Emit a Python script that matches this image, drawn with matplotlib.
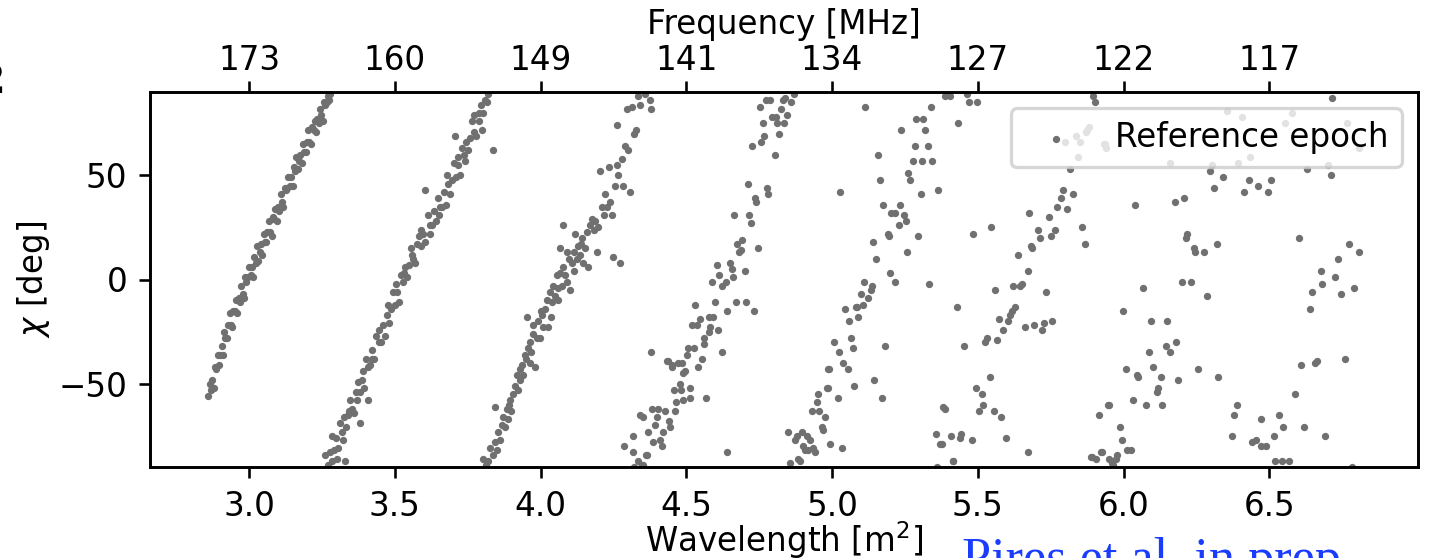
import numpy as np
import matplotlib
matplotlib.use('Agg')
import matplotlib.pyplot as plt

# (lambda^2 [m^2], chi [deg]), one array per wrap of the angle
band1 = np.array([
    (2.860, -56), (2.865, -50), (2.870, -53), (2.874, -48), (2.879, -52), (2.883, -42), (2.888, -43),
    (2.892, -36), (2.897, -41), (2.901, -36), (2.906, -32), (2.910, -36), (2.915, -25), (2.919, -28),
    (2.924, -28), (2.928, -22), (2.933, -16), (2.937, -22), (2.942, -23), (2.946, -15), (2.951, -15),
    (2.955, -10), (2.960, -16), (2.964, -9), (2.969, -11), (2.973, -3), (2.978, -7), (2.982, -9),
    (2.987, 1), (2.991, -1), (2.996, 1), (3.000, 6), (3.005, 2), (3.009, 6), (3.014, 1), (3.018, 11),
    (3.023, 8), (3.027, 16), (3.032, 9), (3.036, 13), (3.041, 17), (3.045, 12), (3.050, 22), (3.054, 18),
    (3.059, 18), (3.063, 23), (3.068, 28), (3.072, 23), (3.077, 21), (3.081, 30), (3.086, 29), (3.090, 34),
    (3.095, 28), (3.099, 35), (3.104, 33), (3.108, 41), (3.113, 37), (3.117, 35), (3.122, 44), (3.126, 43),
    (3.131, 44), (3.135, 49), (3.140, 45), (3.144, 49), (3.149, 45), (3.153, 54), (3.158, 52), (3.162, 59),
    (3.167, 53), (3.171, 57), (3.176, 60), (3.180, 56), (3.185, 65), (3.189, 61), (3.194, 61), (3.198, 66),
    (3.203, 72), (3.207, 66), (3.212, 65), (3.216, 73), (3.221, 72), (3.225, 76), (3.230, 71), (3.234, 77),
    (3.239, 75), (3.243, 82), (3.248, 79), (3.252, 76), (3.257, 85), (3.261, 84), (3.266, 85), (3.270, 88),
    (3.275, 86), (3.279, 89),
])

band2 = np.array([
    (3.262, -84), (3.269, -89), (3.276, -83), (3.283, -75), (3.290, -82), (3.297, -76), (3.304, -81),
    (3.311, -69), (3.318, -73), (3.325, -66), (3.332, -71), (3.339, -65), (3.346, -58), (3.353, -62),
    (3.360, -64), (3.367, -54), (3.374, -49), (3.381, -54), (3.388, -48), (3.395, -52), (3.402, -38),
    (3.409, -42), (3.416, -41), (3.423, -34), (3.430, -38), (3.437, -27), (3.444, -30), (3.451, -30),
    (3.458, -22), (3.465, -27), (3.472, -17), (3.479, -21), (3.486, -14), (3.493, -6), (3.500, -12),
    (3.507, -6), (3.514, -11), (3.521, 2), (3.528, -1), (3.535, 6), (3.542, 1), (3.549, 7), (3.556, 15),
    (3.563, 10), (3.570, 8), (3.577, 17), (3.584, 21), (3.591, 16), (3.598, 22), (3.605, 18), (3.612, 31),
    (3.619, 26), (3.626, 26), (3.633, 33), (3.640, 28), (3.647, 39), (3.654, 35), (3.661, 35), (3.668, 42),
    (3.675, 36), (3.682, 46), (3.689, 41), (3.696, 48), (3.703, 56), (3.710, 49), (3.717, 55), (3.724, 50),
    (3.731, 63), (3.738, 60), (3.745, 66), (3.752, 62), (3.759, 68), (3.766, 76), (3.773, 71), (3.780, 69),
    (3.787, 80), (3.794, 84), (3.801, 80), (3.808, 86), (3.815, 85),
    (3.707, 69), (3.837, 62), (3.604, 43), (3.381, -69), (3.330, -87), (3.408, -58), (3.820, 89),
    (3.800, 72), (3.285, -87), (3.300, -86), (3.322, -77), (3.343, -63), (3.370, -58), (3.392, -44),
    (3.420, -38), (3.447, -24), (3.475, -12), (3.505, -2), (3.532, 3), (3.560, 12), (3.590, 24),
    (3.620, 22), (3.650, 31), (3.680, 50), (3.715, 59), (3.740, 57), (3.770, 79), (3.790, 76),
])

band3 = np.array([
    (3.804, -86), (3.812, -89), (3.827, -81), (3.836, -84), (3.844, -78), (3.855, -73), (3.861, -77),
    (3.866, -70), (3.872, -66), (3.878, -71), (3.844, -61), (3.884, -62), (3.889, -67), (3.895, -58),
    (3.906, -55), (3.913, -51), (3.900, -63), (3.918, -46), (3.922, -53), (3.928, -43), (3.935, -41),
    (3.940, -46), (3.946, -36), (3.951, -38), (3.958, -33), (3.962, -30), (3.968, -35), (3.974, -26),
    (3.981, -42), (3.975, -22), (3.953, -18), (3.986, -28), (3.991, -20), (3.998, -28), (4.004, -17),
    (4.009, -23), (4.015, -14), (4.021, -10), (4.027, -23), (4.032, -6), (4.038, -11), (4.044, -3),
    (4.050, -8), (4.055, 2), (4.061, -10), (4.067, 3), (4.072, -3), (4.078, 6), (4.084, 2), (4.090, -1),
    (4.096, 10), (4.100, -5), (4.107, 8), (4.113, 13), (4.118, 22), (4.124, 10), (4.130, 16), (4.136, 12),
    (4.142, 20), (4.147, 8), (4.153, 15), (4.158, 23), (4.164, 6), (4.170, 26), (4.176, 29), (4.182, 24),
    (4.187, 28), (4.193, 13), (4.198, 25), (4.204, 52), (4.210, 35), (4.216, 31), (4.221, 41), (4.227, 35),
    (4.233, 54), (4.238, 37), (4.245, 31), (4.250, 11), (4.256, 45), (4.261, 55), (4.267, 50), (4.273, 8),
    (4.278, 58), (4.284, 45), (4.290, 64), (4.296, 82), (4.301, 62), (4.307, 42), (4.313, 83), (4.319, 70),
    (4.327, 72), (4.333, 88), (4.340, 84), (4.358, 89), (4.376, 86), (4.379, 82), (4.261, 74), (4.076, 26),
    (4.067, 15), (4.090, 13), (3.820, -87), (3.850, -82), (3.892, -60), (3.930, -48), (3.965, -40),
    (4.000, -15), (4.035, -18), (4.058, -4), (4.115, 4), (4.140, 17),
])

band4 = np.array([
    (4.347, -89), (4.341, -65), (4.352, -66), (4.364, -84), (4.370, -73), (4.393, -70), (4.387, -78),
    (4.404, -62), (4.381, -62), (4.399, -66), (4.410, -77), (4.416, -80), (4.421, -73), (4.427, -63),
    (4.442, -68), (4.444, -71), (4.461, -63), (4.465, -59), (4.456, -53), (4.479, -50), (4.482, -53),
    (4.490, -58), (4.513, -57), (4.511, -52), (4.568, -57), (4.488, -45), (4.495, -44), (4.438, -39),
    (4.450, -42), (4.473, -40), (4.484, -40), (4.379, -35), (4.540, -42), (4.553, -38), (4.502, -36),
    (4.507, -33), (4.527, -33), (4.559, -31), (4.562, -28), (4.624, -35), (4.519, -22), (4.536, -22),
    (4.547, -19), (4.576, -18), (4.581, -23), (4.576, -25), (4.608, -24), (4.593, -18), (4.530, -12),
    (4.599, -11), (4.639, -15), (4.670, -11), (4.705, -11), (4.732, -15), (4.587, -1), (4.613, 2),
    (4.622, -3), (4.636, -1), (4.604, 7), (4.650, 8), (4.656, 5), (4.661, 1), (4.700, 4), (4.682, 13),
    (4.686, 14), (4.675, 17), (4.690, 19), (4.747, 15), (4.665, 31), (4.716, 31), (4.722, 27), (4.736, 39),
    (4.740, 37), (4.711, 46), (4.777, 44), (4.781, 41), (4.726, 64), (4.756, 66), (4.768, 69), (4.803, 60),
    (4.818, 70), (4.762, 75), (4.793, 78), (4.808, 78), (4.812, 75), (4.835, 75), (4.824, 82), (4.845, 79),
    (4.751, 83), (4.774, 86), (4.787, 86), (4.833, 86), (4.838, 87), (4.859, 85), (4.870, 89), (4.640, -83),
    (4.286, -80), (4.318, -75), (4.318, -83), (4.320, -90), (4.333, -87), (4.350, -89), (4.362, -84),
    (4.433, -39), (4.450, -41),
])

band5 = np.array([
    (4.850, -73), (4.856, -88), (4.873, -77), (4.878, -75), (4.884, -86), (4.889, -87), (4.896, -73),
    (4.901, -80), (4.907, -82), (4.913, -75), (4.918, -82), (4.924, -77), (4.935, -81), (4.941, -83),
    (4.930, -63), (4.947, -59), (4.956, -63), (4.951, -55), (4.964, -71), (4.968, -72), (4.976, -66),
    (4.993, -79), (5.033, -81), (5.020, -57), (4.982, -52), (4.986, -52), (5.074, -51), (5.145, -48),
    (5.170, -57), (4.987, -43), (4.990, -43), (5.039, -40), (5.054, -43), (5.008, -30), (5.024, -35),
    (5.064, -28), (5.070, -33), (5.182, -32), (5.058, -20), (5.045, -14), (5.088, -18), (5.081, -13),
    (5.085, -13), (5.105, -12), (5.124, -9), (5.100, -7), (5.133, -5), (5.136, -3), (5.110, -1),
    (5.216, -1), (5.197, 3), (5.151, 10), (5.142, 18), (5.258, 13), (5.294, 21), (5.191, 22), (5.195, 21),
    (5.228, 26), (5.254, 28), (5.248, 31), (5.216, 32), (5.202, 32), (5.233, 36), (5.176, 36), (5.027, 42),
    (5.165, 48), (5.304, 41), (5.365, 43), (5.262, 51), (5.266, 48), (5.158, 60), (5.278, 57), (5.310, 57),
    (5.344, 57), (5.285, 64), (5.330, 64), (5.237, 72), (5.319, 72), (5.288, 77), (5.313, 77), (5.113, 83),
    (5.340, 83), (5.431, 75), (5.388, 88), (5.405, 88), (5.462, 89), (5.470, 85), (5.498, 85), (5.333, -2),
    (5.428, -13), (5.452, -32), (5.483, 22), (5.544, 25),
])

band6 = np.array([
    (5.356, -74), (5.376, -79), (5.382, -61), (5.386, -62), (5.407, -75), (5.416, -87), (5.439, -76),
    (5.443, -74), (5.479, -77), (5.360, -90), (5.370, -79), (5.414, -87), (5.493, -52), (5.513, -55),
    (5.519, -60), (5.504, -63), (5.540, -47), (5.556, -63), (5.580, -66), (5.596, -76), (5.673, -83),
    (5.525, -30), (5.530, -28), (5.565, -29), (5.586, -24), (5.574, -19), (5.605, -20), (5.616, -15),
    (5.628, -13), (5.611, -17), (5.662, -23), (5.693, -22), (5.719, -24), (5.728, -21), (5.756, -20),
    (5.559, -5), (5.622, -3), (5.645, -3), (5.650, -2), (5.733, -6), (5.673, 4), (5.637, 12), (5.682, 16),
    (5.686, 15), (5.714, 20), (5.750, 21), (5.708, 24), (5.765, 24), (5.677, 32), (5.744, 30), (5.771, 35),
    (5.805, 34), (5.786, 39), (5.792, 43), (5.826, 41), (5.857, 25), (5.866, 17), (5.816, 53), (5.800, 66),
    (5.836, 69), (5.851, 66), (5.871, 71), (5.883, 73), (5.843, 59), (5.933, 65), (5.940, 63), (5.896, 88),
    (5.902, 85),
])

band7 = np.array([
    (5.965, -89), (5.974, -86), (5.978, -84), (5.891, -85), (5.906, -86), (5.925, -83), (6.026, -82),
    (5.994, -77), (5.986, -71), (5.917, -65), (5.951, -60), (6.031, -58), (6.077, -60), (6.133, -60),
    (6.117, -52), (6.115, -54), (6.051, -47), (6.047, -46), (6.129, -47), (6.188, -48), (6.009, -43),
    (6.102, -42), (6.256, -43), (6.325, -47), (6.087, -35), (6.144, -32), (6.159, -35), (6.180, -30),
    (6.093, -20), (6.148, -20), (5.999, -15), (6.068, -4), (6.285, -8), (6.200, -1), (6.230, -1),
    (6.217, 22), (6.215, 20), (6.243, 15), (6.245, 13), (6.276, 13), (6.322, 17), (6.040, 36), (6.175, 37),
    (6.206, 39), (6.297, 52), (6.311, 44), (6.340, 49), (6.414, 42), (6.430, 48), (6.460, 45), (6.496, 42),
    (6.504, 48), (5.887, -85), (5.922, -83), (5.948, -60), (5.950, -86), (5.960, -88), (6.010, -82),
    (5.874, 72), (5.937, 65), (6.159, 56), (6.303, 55), (6.354, 81), (6.405, 78), (6.394, 56), (6.434, 59),
])

band8 = np.array([
    (6.371, -75), (6.379, -65), (6.388, -60), (6.454, -77), (6.470, -67), (6.490, -80), (6.516, -75),
    (6.532, -65), (6.548, -71), (6.520, -87), (6.542, -87), (6.568, -87), (6.588, -55), (6.619, -71),
    (6.691, -75), (6.609, -41), (6.657, -40), (6.662, -39), (6.758, -38), (6.783, -90), (6.640, -14),
    (6.680, -2), (6.646, -6), (6.746, -7), (6.726, 1), (6.792, -4), (6.676, 4), (6.737, 10), (6.774, 17),
    (6.808, 13), (6.602, 20), (6.629, 53), (6.710, 50), (6.714, 87), (6.577, 80), (6.554, 75), (6.702, 55),
    (6.766, 75), (6.806, 63), (6.440, -78), (6.470, -80),
])

lam2_ticks = [3.0, 3.5, 4.0, 4.5, 5.0, 5.5, 6.0, 6.5]
chi_ticks = [-50, 0, 50]

pts = np.vstack([band1, band2, band3, band4, band5, band6, band7, band8])

DPI = 235
fig = plt.figure(figsize=(1430 / DPI, 558 / DPI), dpi=DPI)
ax = fig.add_subplot(111)
fig.subplots_adjust(left=150 / 1430, right=1418 / 1430, top=1 - 92 / 558, bottom=1 - 467 / 558)

ax.scatter(pts[:, 0], pts[:, 1], s=5, color='#707070', linewidths=0, label='Reference epoch')
ax.set_xlim(2.66, 7.01)
ax.set_ylim(-90, 90)
ax.set_xticks(lam2_ticks)
ax.set_yticks(chi_ticks)
ax.set_xlabel('Wavelength [m$^2$]', labelpad=-1.2)
ax.set_ylabel(r'$\chi$ [deg]', labelpad=2)
ax.legend(loc='upper right')

# frequency axis on top, c / sqrt(lambda^2)
ax2 = ax.twiny()
ax2.set_xlim(ax.get_xlim())
ax2.set_xticks(lam2_ticks)
ax2.set_xticklabels([str(int(299.792458 / np.sqrt(t))) for t in lam2_ticks])
ax2.tick_params(axis='x', pad=1.2)
ax2.set_xlabel('Frequency [MHz]', labelpad=3)

# bits of the surrounding slide that were cropped
fig.text(5 / 1430, 1 - 93 / 558, '2', ha='right', va='baseline', fontsize=12, family='DejaVu Serif')
fig.text(962 / 1430, 1 - 574 / 558, 'Pires et al. in prep', ha='left', va='baseline',
         fontsize=16, color='#1a3cff', family='Liberation Serif')

fig.savefig('out.png', dpi=DPI)
